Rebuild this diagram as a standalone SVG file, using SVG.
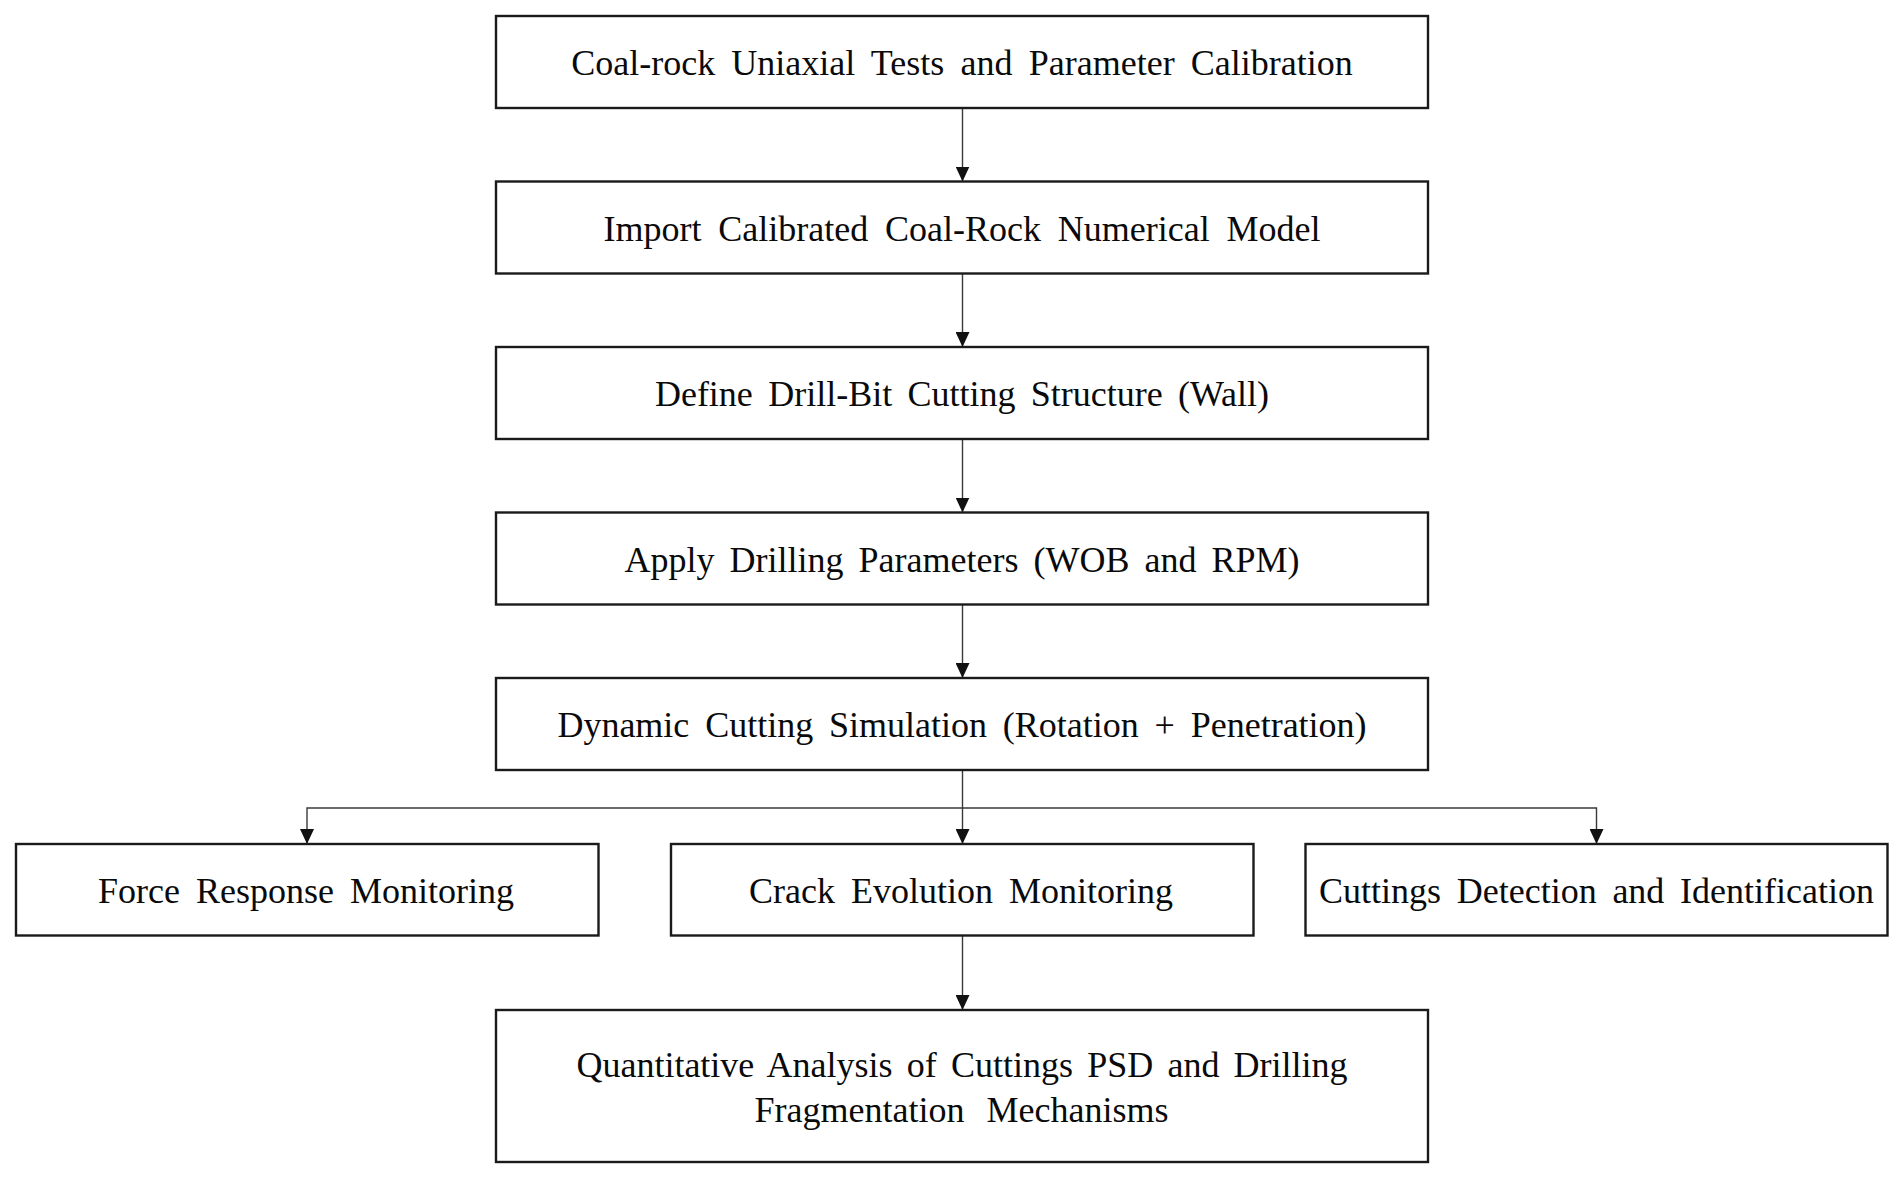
<svg xmlns="http://www.w3.org/2000/svg" width="1904" height="1178" viewBox="0 0 1904 1178">
<defs>
<style>
.box{fill:#ffffff;stroke:#1a1a1a;stroke-width:2.4}
.lbl{font-family:"Liberation Serif","Times New Roman",serif;font-size:36px;fill:#0a0a0a;text-anchor:middle}
.con{fill:none;stroke:#3a3a3a;stroke-width:1.4}
</style>
<marker id="ah" viewBox="0 0 15 14" refX="15" refY="7" markerWidth="15" markerHeight="14" markerUnits="userSpaceOnUse" orient="auto-start-reverse">
<path d="M0,0 L15,7 L0,14 Z" fill="#111111"/>
</marker>
</defs>
<rect width="1904" height="1178" fill="#ffffff"/>
<g id="connectors">
<line class="con" x1="962.5" y1="108" x2="962.5" y2="181.5" marker-end="url(#ah)"/>
<line class="con" x1="962.5" y1="273.5" x2="962.5" y2="347" marker-end="url(#ah)"/>
<line class="con" x1="962.5" y1="439" x2="962.5" y2="512.5" marker-end="url(#ah)"/>
<line class="con" x1="962.5" y1="604.5" x2="962.5" y2="678" marker-end="url(#ah)"/>
<line class="con" x1="962.5" y1="770" x2="962.5" y2="844" marker-end="url(#ah)"/>
<polyline class="con" points="307,844 307,808 1596.5,808 1596.5,844" marker-start="url(#ah)" marker-end="url(#ah)"/>
<line class="con" x1="962.5" y1="935.5" x2="962.5" y2="1010" marker-end="url(#ah)"/>
</g>
<g id="n1">
<rect class="box" x="496" y="16" width="932" height="92"/>
<text class="lbl" x="962" y="75" word-spacing="7.2">Coal-rock Uniaxial Tests and Parameter Calibration</text>
</g>
<g id="n2">
<rect class="box" x="496" y="181.5" width="932" height="92"/>
<text class="lbl" x="962" y="240.5" word-spacing="7.8">Import Calibrated Coal-Rock Numerical Model</text>
</g>
<g id="n3">
<rect class="box" x="496" y="347" width="932" height="92"/>
<text class="lbl" x="962" y="406" word-spacing="6.3">Define Drill-Bit Cutting Structure (Wall)</text>
</g>
<g id="n4">
<rect class="box" x="496" y="512.5" width="932" height="92"/>
<text class="lbl" x="962" y="571.5" word-spacing="6">Apply Drilling Parameters (WOB and RPM)</text>
</g>
<g id="n5">
<rect class="box" x="496" y="678" width="932" height="92"/>
<text class="lbl" x="962" y="737" word-spacing="6.8">Dynamic Cutting Simulation (Rotation + Penetration)</text>
</g>
<g id="n6">
<rect class="box" x="16" y="844" width="582.5" height="91.5"/>
<text class="lbl" x="306" y="903" word-spacing="7">Force Response Monitoring</text>
</g>
<g id="n7">
<rect class="box" x="671" y="844" width="582.5" height="91.5"/>
<text class="lbl" x="961" y="903" word-spacing="7">Crack Evolution Monitoring</text>
</g>
<g id="n8">
<rect class="box" x="1305.5" y="844" width="582" height="91.5"/>
<text class="lbl" x="1596.5" y="903" word-spacing="6.7">Cuttings Detection and Identification</text>
</g>
<g id="n9">
<rect class="box" x="496" y="1010" width="932" height="152"/>
<text class="lbl" x="962" y="1077" word-spacing="5.2">Quantitative Analysis of Cuttings PSD and Drilling</text>
<text class="lbl" x="961.5" y="1121.5" word-spacing="13">Fragmentation Mechanisms</text>
</g>
</svg>
